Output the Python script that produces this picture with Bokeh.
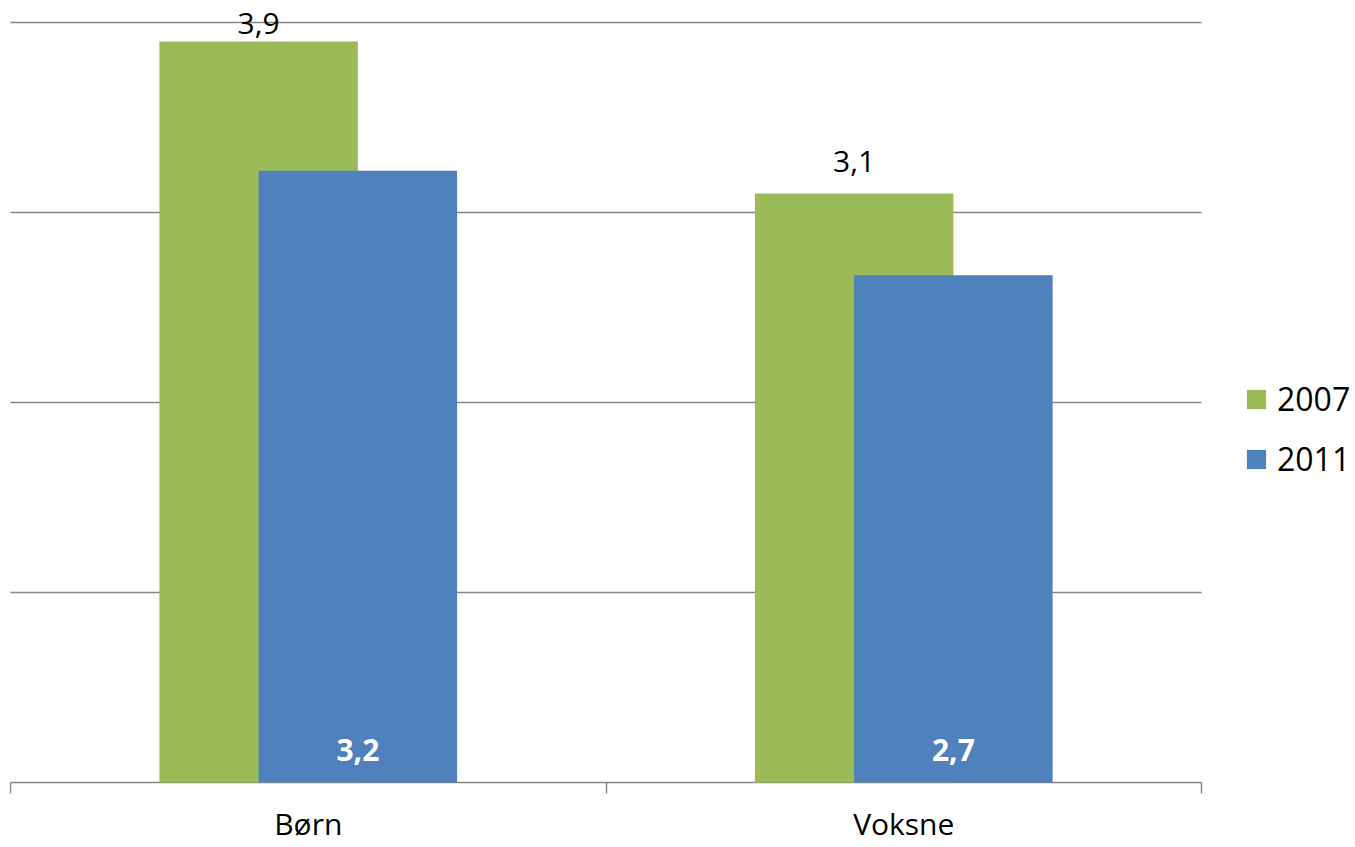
from bokeh.plotting import figure
from bokeh.models import (ColumnDataSource, Range1d, FixedTicker, LabelSet,
                          Legend, LegendItem)
from bokeh.core.properties import value
from bokeh.embed import file_html
from bokeh.resources import INLINE

categories = ["Børn", "Voksne"]
years = ["2007", "2011"]
values_2007 = [3.9, 3.1]
values_2011 = [3.22, 2.67]

GREEN = "#9BBB59"
BLUE = "#4F81BD"
GRID = "#868686"
FONT = "Open Sans"

def fmt(v):
    return f"{v:.1f}".replace(".", ",")

n = len(categories)
centers = [i + 0.5 for i in range(n)]
src07 = ColumnDataSource(dict(x=[c - 0.0833 for c in centers], top=values_2007,
                              label=[fmt(v) for v in values_2007],
                              off=[8, 22]))
src11 = ColumnDataSource(dict(x=[c + 0.0833 for c in centers], top=values_2011,
                              label=[fmt(v) for v in values_2011],
                              base=[0] * len(values_2011)))
srccat = ColumnDataSource(dict(x=centers, y=[0] * n, name=categories))

# frame spans the whole page; category area is x in [0, n], values in [0, 4]
p = figure(width=1355, height=847, output_backend="svg", toolbar_location=None,
           x_range=Range1d(-0.00168, n * 1.1293), y_range=Range1d(-0.3421, 4.1158),
           x_axis_location=None, y_axis_location=None,
           min_border_left=9, min_border_right=0, min_border_top=0,
           min_border_bottom=0)
p.outline_line_color = None
p.background_fill_color = "white"
p.border_fill_color = "white"

# horizontal gridlines, the one at 0 serving as the category axis line
p.ygrid.ticker = FixedTicker(ticks=[0, 1, 2, 3, 4])
p.ygrid.cross_bounds = (0, n)
p.ygrid.grid_line_color = GRID
p.ygrid.grid_line_width = 1.5
# category boundary tick marks below the axis line
p.xgrid.ticker = FixedTicker(ticks=list(range(n + 1)))
p.xgrid.cross_bounds = (-0.0579, 0)
p.xgrid.grid_line_color = GRID
p.xgrid.grid_line_width = 1.5

r07 = p.vbar(x="x", top="top", width=0.3333, source=src07,
             fill_color=GREEN, line_color=None)
r11 = p.vbar(x="x", top="top", width=0.3333, source=src11,
             fill_color=BLUE, line_color=None)

lab07 = LabelSet(x="x", y="top", text="label", source=src07, y_offset="off",
                 text_align="center", text_baseline="alphabetic",
                 text_font=value(FONT), text_font_size="30px",
                 text_color="black")
lab11 = LabelSet(x="x", y="base", text="label", source=src11, y_offset=22,
                 text_align="center", text_baseline="alphabetic",
                 text_font=value(FONT), text_font_size="30px",
                 text_font_style="bold", text_color="white")
labcat = LabelSet(x="x", y="y", text="name", source=srccat, y_offset=-52,
                  text_align="center", text_baseline="alphabetic",
                  text_font=value(FONT), text_font_size="30px",
                  text_color="black")
p.add_layout(lab07)
p.add_layout(lab11)
p.add_layout(labcat)

legend = Legend(items=[LegendItem(label=years[0], renderers=[r07]),
                       LegendItem(label=years[1], renderers=[r11])],
                location=(1235, 367), orientation="vertical",
                glyph_width=24, glyph_height=24, label_standoff=9,
                spacing=17, padding=0, margin=0,
                border_line_color=None, background_fill_alpha=0,
                label_text_font=FONT, label_text_font_size="32px",
                label_text_color="black")
p.add_layout(legend, "center")

open("out.html", "w").write(file_html(p, INLINE))
